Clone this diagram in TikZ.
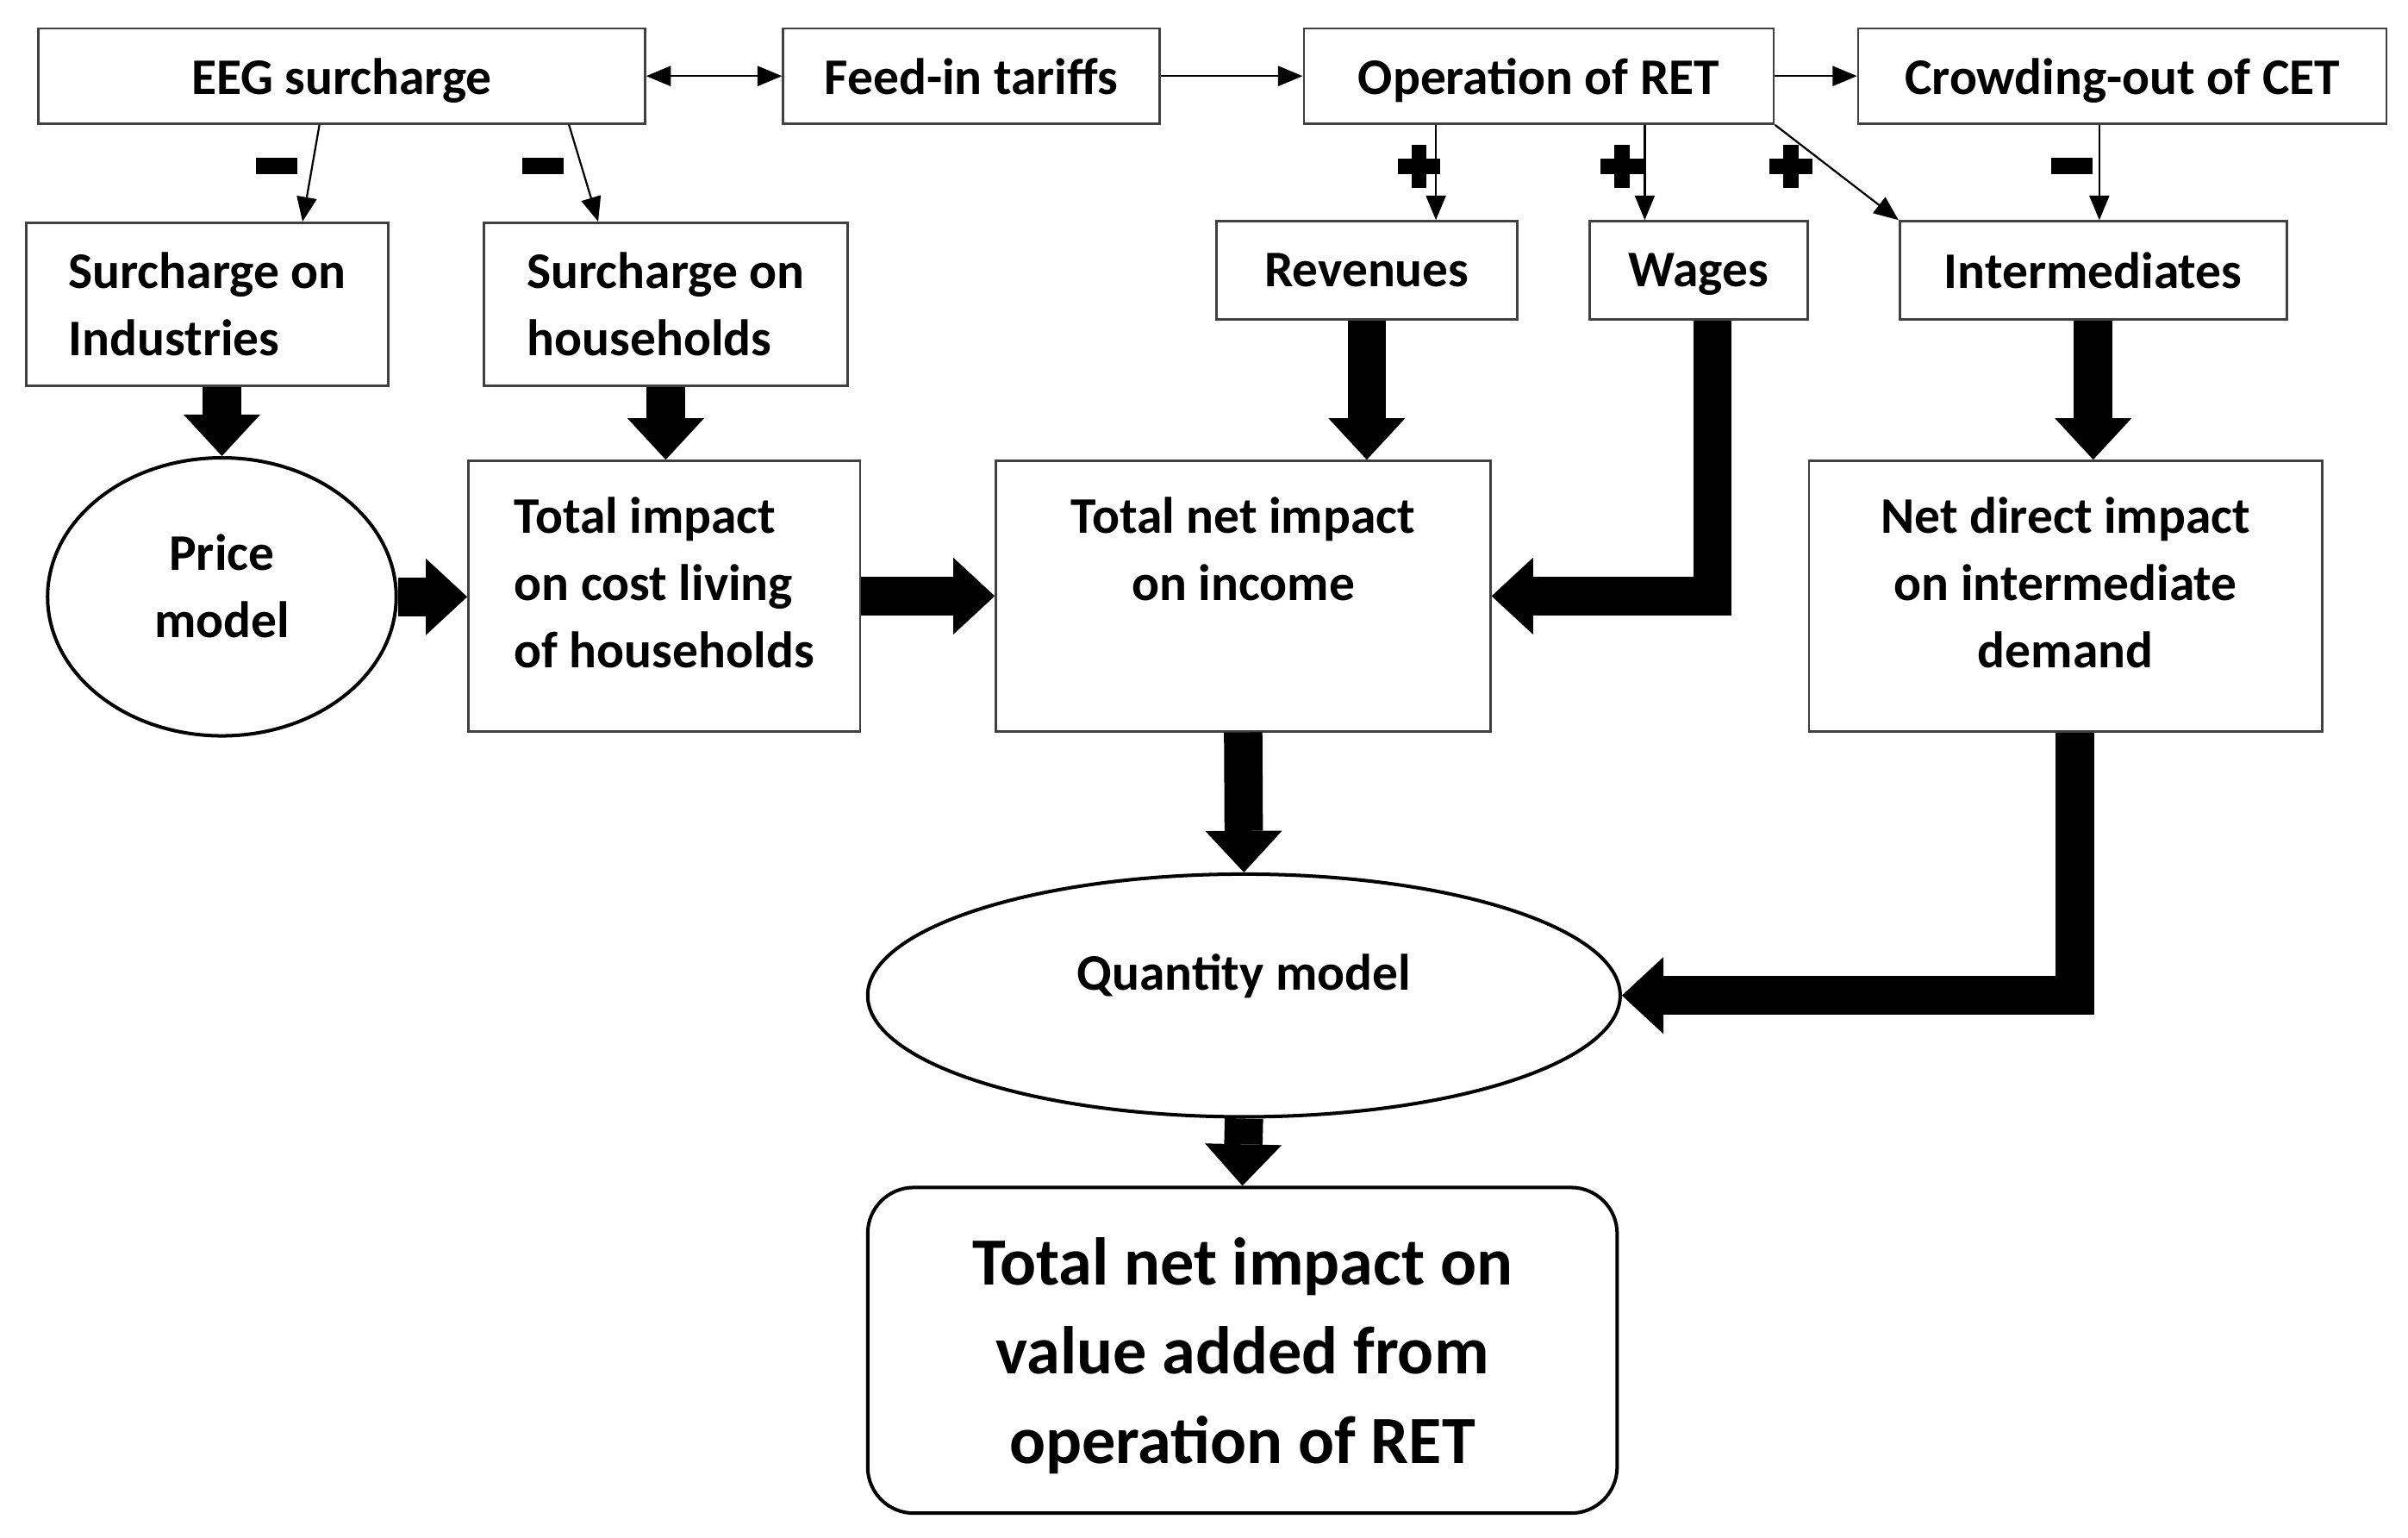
\documentclass[tikz,border=0pt]{standalone}
\usepackage{fontspec}
\setmainfont{Carlito}
\usetikzlibrary{shapes.geometric,arrows.meta,calc}

\newcommand{\minussign}{\rule{5.4mm}{2.2mm}}
\newcommand{\plussign}{\rlap{\rule[1.8mm]{5.6mm}{2mm}}\hspace{1.8mm}\rule{2mm}{5.6mm}\hspace{1.8mm}}

\tikzset{
  >={Triangle[width=2.6mm,length=3.2mm]},
  box/.style={draw=black!75, line width=0.3mm, inner sep=0pt, align=center,
    font=\fontsize{19pt}{25pt}\selectfont\bfseries},
  oval/.style={box, ellipse, draw=black, line width=0.45mm},
  link/.style={line width=0.25mm, ->},
  flow/.style={line width=5mm, -{Triangle[width=10mm,length=5.4mm,line width=0pt]}},
  sign/.style={inner sep=0pt}
}

\begin{document}
\begin{tikzpicture}[x=0.2mm, y=-0.2mm]
    \useasboundingbox (0,0) rectangle (1568,1001);

    % 箱を置く
    \node[box, text depth=0pt, minimum width=79mm, minimum height=12.4mm] (eeg) at (222.5,49.5) {EEG surcharge};
    \node[box, text depth=0pt, minimum width=49mm, minimum height=12.4mm] (feed) at (632.5,49.5) {Feed-in tariffs};
    \node[box, text depth=0pt, minimum width=61.2mm, minimum height=12.4mm] (oper) at (1002,49.5) {Operation of RET};
    \node[box, text depth=0pt, minimum width=68.8mm, minimum height=12.4mm] (crowd) at (1382,49.5) {Crowding-out of CET};

    \node[box, align=left, minimum width=47.2mm, minimum height=21.2mm] (ind) at (135,198) {Surcharge on\\Industries};
    \node[box, align=left, minimum width=47.4mm, minimum height=21.2mm] (hh) at (433.5,198) {Surcharge on\\households};
    \node[box, text depth=0pt, minimum width=39.2mm, minimum height=12.8mm] (rev) at (890,176) {Revenues};
    \node[box, text depth=0pt, minimum width=28.4mm, minimum height=12.8mm] (wage) at (1106,176) {Wages};
    \node[box, text depth=0pt, minimum width=50.4mm, minimum height=12.8mm] (inter) at (1363,176) {Intermediates};

    \node[oval, text depth=8pt, minimum width=45.4mm, minimum height=36.2mm] (price) at (144.5,388.5) {Price\\model};
    \node[box, align=left, text depth=10pt, minimum width=51mm, minimum height=35.2mm] (cost) at (432.5,388) {Total impact\\on cost living\\of households};
    \node[box, text depth=10pt, minimum width=64.4mm, minimum height=35.2mm] (income) at (809.5,388) {Total net impact\\on income\\\mbox{}};
    \node[box, text depth=10pt, minimum width=66.8mm, minimum height=35.2mm] (demand) at (1345,388) {Net direct impact\\on intermediate\\demand};

    \node[oval, text depth=17pt, minimum width=98mm, minimum height=31.6mm] (qty) at (810,648) {Quantity model};
    \node[box, draw=black, line width=0.45mm, rounded corners=6mm, minimum width=97.6mm, minimum height=42.4mm,
      text depth=0pt, font=\fontsize{25pt}{33pt}\selectfont\bfseries] (va) at (809,879) {Total net impact on\\value added from\\operation of RET};

    % 細い矢印
    \draw[link, <->] (eeg) -- (feed);
    \draw[link] (feed) -- (oper);
    \draw[link] (oper) -- (crowd);
    \draw[link] ($(eeg.south)+(-14.5,0)$) -- ($(ind.north)+(62,0)$);
    \draw[link] ($(eeg.south)+(148,0)$) -- ($(hh.north)+(-44,0)$);
    \draw[link] ($(oper.south)+(-67,0)$) -- ($(rev.north)+(45,0)$);
    \draw[link] ($(oper.south)+(69,0)$) -- ($(wage.north)+(-35,0)$);
    \draw[link] (oper.south east) -- (inter.north west);
    \draw[link] ($(crowd.south)+(-15,0)$) -- ($(inter.north)+(4,0)$);

    % 太い矢印
    \draw[flow] (ind.south -| price.north) -- (price.north);
    \draw[flow] (hh.south) -- (hh.south |- cost.north);
    \draw[flow] (rev.south) -- (rev.south |- income.north);
    \draw[flow] (inter.south) -- (inter.south |- demand.north);
    \draw[flow] (price.east) -- (price.east -| cost.west);
    \draw[flow] (cost.east) -- (income.west);
    \draw[flow] ($(wage.south)+(9,0)$) |- (income.east);
    \draw[flow] (income.south) -- (qty.north);
    \draw[flow] ($(demand.south)+(6,0)$) |- (qty.east);
    \draw[flow] (qty.south) -- (va.north);

    % 符号を入れる
    \node[sign] (neg1) at (180,108) {\minussign};
    \node[sign] (neg2) at (353.5,108) {\minussign};
    \node[sign] (neg3) at (1349,108) {\minussign};
    \node[sign] (pos1) at (919.5,108.5) {\plussign};
    \node[sign] (pos2) at (1051.5,108.5) {\plussign};
    \node[sign] (pos3) at (1161.5,108.5) {\plussign};

\end{tikzpicture}
\end{document}
